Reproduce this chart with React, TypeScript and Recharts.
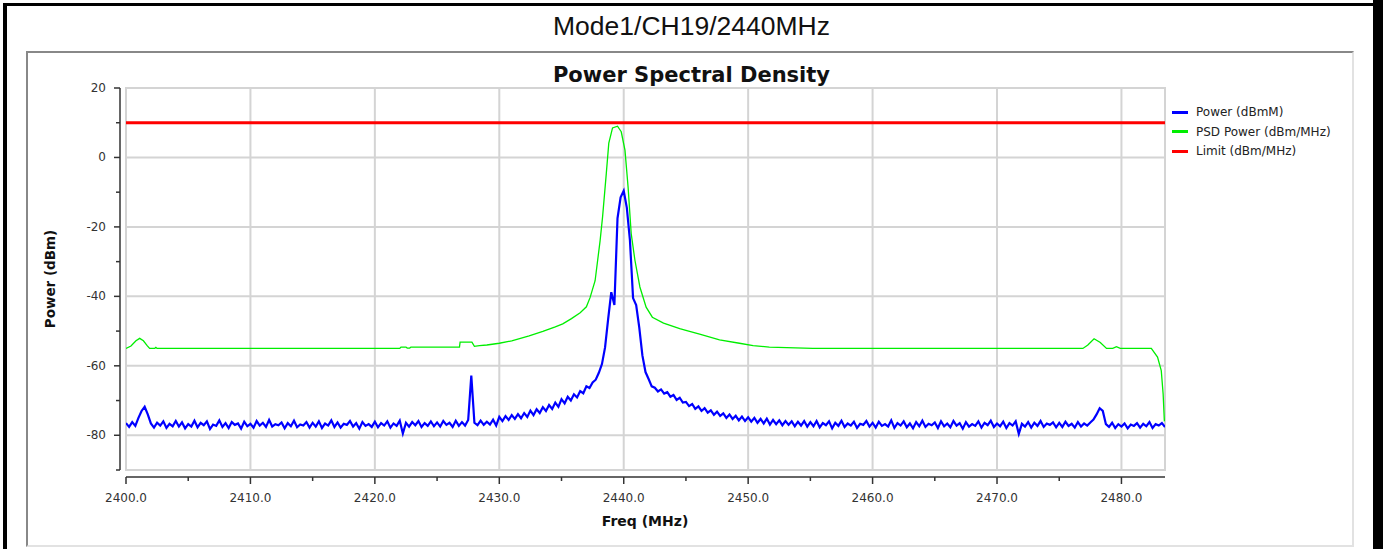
import React from 'react';
import {
  LineChart, Line, XAxis, YAxis, ReferenceLine, ReferenceArea,
} from 'recharts';

// spectrum trace, 0.25 MHz bins starting at 2400 MHz
const BLUE_START = 2400;
const BLUE_STEP = 0.25;
const BLUE_DB = [
  // 2400 - 2404.75
  -76.5, -77.6, -76.2, -77.3, -75.0, -73.0, -71.8, -74.0, -76.6, -77.8, -76.4, -77.2, -76.0, -77.9, -76.7, -77.4, -75.9, -77.5, -76.3, -78.0,
  // 2405
  -76.8, -77.5, -75.8, -77.7, -76.4, -77.1, -76.0, -78.2, -76.9, -77.3, -75.7, -77.6, -76.5, -77.9, -76.2, -77.0, -76.6, -78.1, -76.1, -77.4,
  // 2410
  -76.7, -77.8, -75.9, -77.2, -76.4, -77.6, -75.6, -77.5, -76.8, -77.1, -76.3, -78.0, -76.5, -77.4, -75.8, -77.7, -76.9, -77.2, -76.2, -77.8,
  // 2415
  -76.4, -77.5, -76.0, -77.9, -76.6, -77.2, -75.7, -77.6, -76.3, -77.8, -76.7, -77.0, -75.9, -77.5, -76.5, -78.1, -76.2, -77.3, -76.8, -77.6,
  // 2420
  -76.1, -77.7, -76.5, -77.2, -76.0, -77.8, -76.6, -77.3, -75.8, -79.5, -76.4, -77.5, -76.2, -77.1, -75.9, -77.6, -76.5, -77.3, -76.0, -77.4,
  // 2425
  -76.3, -77.5, -75.9, -77.0, -76.4, -77.6, -75.8, -77.3, -76.2, -77.2, -75.6, -62.8, -76.4, -77.1, -75.8, -77.0, -76.1, -76.9, -75.5, -77.2,
  // 2430
  -74.7, -75.9, -74.5, -75.6, -74.2, -75.3, -73.9, -75.1, -73.6, -74.7, -72.9, -74.2, -72.5, -73.6, -71.9, -73.0, -71.3, -72.4, -70.6, -71.8,
  // 2435
  -69.6, -70.8, -68.9, -70.0, -68.2, -69.1, -67.3, -67.9, -65.9, -66.4, -64.8, -64.0, -62.0, -59.5, -54.7, -46.5, -38.8, -42.5, -17.5, -11.5,
  // 2440
  -9.6, -14.5, -23.9, -40.5, -42.5, -49.0, -57.0, -61.8, -63.8, -65.9, -66.3, -67.4, -66.8, -68.0, -67.6, -68.9, -68.4, -69.8, -69.2, -70.6,
  // 2445
  -70.4, -71.6, -71.0, -72.4, -71.7, -73.0, -72.2, -73.5, -72.8, -74.1, -73.2, -74.4, -73.7, -75.0, -74.0, -75.3, -74.4, -75.7, -74.6, -75.9,
  // 2450
  -74.8, -76.1, -75.0, -76.4, -75.3, -76.6, -75.2, -76.9, -75.6, -76.8, -75.7, -77.1, -75.9, -77.0, -76.0, -77.4, -76.1, -77.2, -75.9, -77.5,
  // 2455
  -76.2, -77.4, -75.9, -77.7, -76.5, -77.1, -76.0, -78.0, -76.4, -77.3, -75.8, -77.6, -76.6, -77.2, -76.1, -77.9, -76.7, -77.0, -75.9, -77.5,
  // 2460
  -76.4, -77.8, -76.1, -77.3, -76.8, -77.5, -75.7, -77.9, -76.5, -77.2, -76.0, -77.7, -76.6, -78.0, -76.2, -77.4, -75.8, -77.6, -76.7, -77.1,
  // 2465
  -76.3, -77.9, -76.0, -77.4, -76.6, -77.7, -75.9, -77.2, -76.5, -78.1, -76.2, -77.5, -76.8, -77.3, -76.0, -77.8, -76.4, -77.1, -75.8, -77.6,
  // 2470
  -76.6, -77.4, -76.1, -77.9, -76.5, -77.2, -76.0, -79.6, -76.7, -77.5, -76.2, -77.8, -76.4, -77.3, -75.9, -77.6, -76.6, -77.0, -76.3, -77.7,
  // 2475
  -76.4, -77.6, -76.1, -77.3, -76.7, -77.8, -76.2, -77.5, -76.6, -77.2, -76.3, -75.5, -74.0, -72.2, -73.0, -76.8, -77.6, -76.4, -77.9, -76.8,
  // 2480 - 2483.5
  -77.5, -76.6, -78.0, -76.9, -77.3, -76.5, -77.8, -76.7, -77.4, -76.2, -77.9, -76.8, -77.2, -76.5, -77.6,
];

const GREEN_F = [
  2400, 2400.4, 2400.8, 2401.1, 2401.4, 2401.7, 2401.9, 2402.3, 2402.4, 2402.5,
  2410, 2422.0, 2422.1, 2422.5, 2422.6, 2422.8, 2422.9, 2426.8, 2426.85, 2427.8,
  2428.0, 2428.4, 2429.0, 2430.0, 2431.0, 2432.4, 2433.5, 2434.5, 2435.1, 2435.8,
  2436.5, 2437.0, 2437.3, 2437.7, 2438.1, 2438.3, 2438.6, 2438.8, 2439.1, 2439.5,
  2439.8, 2440.1, 2440.35, 2440.6, 2440.9, 2441.3, 2441.8, 2442.3, 2443.2, 2444.5,
  2445.0, 2446.1, 2447.7, 2449.3, 2450.4, 2451.7, 2455.2, 2462, 2470, 2476.9,
  2477.3, 2477.8, 2478.3, 2478.8, 2479.3, 2479.6, 2479.9, 2482.4, 2482.9, 2483.2,
  2483.35, 2483.45,
];
const GREEN_DB = [
  -55.0, -54.3, -52.8, -52.1, -52.8, -54.2, -55.0, -55.0, -54.7, -55.0,
  -55.0, -55.0, -54.6, -54.6, -54.9, -54.9, -54.6, -54.6, -53.2, -53.2,
  -54.4, -54.2, -54.0, -53.5, -52.8, -51.4, -50.1, -48.8, -47.9, -46.4,
  -44.7, -43.0, -40.3, -35.5, -24.0, -17.1, -4.6, 4.1, 8.5, 9.0,
  7.4, 2.1, -8.5, -21.9, -29.6, -37.3, -43.1, -46.0, -47.7, -49.3,
  -49.8, -50.9, -52.5, -53.5, -54.2, -54.6, -55.0, -55.0, -55.0, -55.0,
  -54.0, -52.2, -53.3, -55.0, -55.0, -54.5, -55.0, -55.0, -57.5, -61.4,
  -68.1, -76.0,
];

const LIMIT_F = [2400, 2483.5];
const LIMIT_DB = [10, 10];

const X_DOMAIN = [2400, 2483.5];
const Y_DOMAIN = [-90, 20];
const X_TICKS = [2400, 2405, 2410, 2415, 2420, 2425, 2430, 2435, 2440, 2445, 2450, 2455, 2460, 2465, 2470, 2475, 2480];
const X_GRID = [2410, 2420, 2430, 2440, 2450, 2460, 2470, 2480];
const Y_TICKS = [20, 10, 0, -10, -20, -30, -40, -50, -60, -70, -80, -90];
const Y_GRID = [0, -20, -40, -60, -80];
const Y_LABELED = [20, 0, -20, -40, -60, -80];

const SERIES = [
  { name: 'Power (dBmM)', color: '#0000ff' },
  { name: 'PSD Power (dBm/MHz)', color: '#00ee00' },
  { name: 'Limit (dBm/MHz)', color: '#ff0000' },
];

const blueRows = BLUE_DB.map((v, i) => ({ f: BLUE_START + i * BLUE_STEP, v }));
const greenRows = GREEN_F.map((f, i) => ({ f, v: GREEN_DB[i] }));
const limitRows = LIMIT_F.map((f, i) => ({ f, v: LIMIT_DB[i] }));

const TICK_FONT = { fontFamily: 'DejaVu Sans, sans-serif', fontSize: 12, fill: '#333' };
const AXIS_COLOR = '#333';
const GRID_COLOR = '#d4d4d4';

function XTick(props: any) {
  const { x, y, payload } = props;
  const major = payload.value % 10 === 0;
  return (
    <g>
      <line x1={x} x2={x} y1={y} y2={y + (major ? 7 : 4)} stroke={AXIS_COLOR} strokeWidth={1.5} />
      {major && (
        <text x={x} y={y + 21} textAnchor="middle" dominantBaseline="central" style={TICK_FONT}>
          {payload.value.toFixed(1)}
        </text>
      )}
    </g>
  );
}

function YTick(props: any) {
  const { x, y, payload } = props;
  const labeled = Y_LABELED.includes(payload.value);
  return (
    <g>
      <line x1={x - (labeled ? 6 : 4)} x2={x} y1={y} y2={y} stroke={AXIS_COLOR} strokeWidth={1.5} />
      {labeled && (
        <text x={x - 14} y={y} textAnchor="end" dominantBaseline="central" style={TICK_FONT}>
          {payload.value}
        </text>
      )}
    </g>
  );
}

export default function App() {
  return (
    <div style={{ position: 'absolute', left: 0, top: 0, width: 1383, height: 549, background: '#fff', overflow: 'hidden' }}>
      {/* outer frame */}
      <div style={{ position: 'absolute', left: 3, top: 3, width: 1383, height: 3, background: '#000' }} />
      <div style={{ position: 'absolute', left: 3, top: 3, width: 4, height: 549, background: '#000' }} />
      <div style={{ position: 'absolute', left: 1373, top: 0, width: 10, height: 549, background: '#000' }} />
      {/* inner panel */}
      <div style={{
        position: 'absolute', left: 26, top: 51, width: 1324, height: 492,
        borderTop: '2px solid #888', borderLeft: '2px solid #888',
        borderRight: '2px solid #e2e2e2', borderBottom: '2px solid #e2e2e2',
      }} />
      <div style={{
        position: 'absolute', left: 0, top: 11, width: 1383, textAlign: 'center',
        fontFamily: 'Liberation Sans, Arial, sans-serif', fontSize: 26.5, color: '#111',
      }}>
        Mode1/CH19/2440MHz
      </div>
      <div style={{
        position: 'absolute', left: 0, top: 63, width: 1383, textAlign: 'center',
        fontFamily: 'DejaVu Sans, sans-serif', fontWeight: 'bold', fontSize: 21, color: '#111',
      }}>
        Power Spectral Density
      </div>
      <div style={{ position: 'absolute', left: 0, top: 0 }}>
        <LineChart width={1383} height={549} margin={{ top: 88, right: 218, bottom: 32, left: 60 }}>
          <XAxis xAxisId="inner" dataKey="f" type="number" domain={X_DOMAIN} allowDataOverflow
                 height={7} axisLine={false} tickLine={false} tick={false} />
          <XAxis xAxisId="outer" dataKey="f" type="number" domain={X_DOMAIN} allowDataOverflow
                 ticks={X_TICKS} interval={0} height={40} tickSize={0} tickMargin={0}
                 axisLine={{ stroke: AXIS_COLOR, strokeWidth: 1.5 }} tickLine={false} tick={<XTick />} />
          <YAxis yAxisId="inner" type="number" domain={Y_DOMAIN} allowDataOverflow
                 width={6} axisLine={false} tickLine={false} tick={false} />
          <YAxis yAxisId="outer" type="number" domain={Y_DOMAIN} allowDataOverflow
                 ticks={Y_TICKS} interval={0} width={60} tickSize={0} tickMargin={0}
                 axisLine={{ stroke: AXIS_COLOR, strokeWidth: 1.5 }} tickLine={false} tick={<YTick />} />
          {X_GRID.map((v) => (
            <ReferenceLine key={`gx${v}`} xAxisId="inner" yAxisId="inner" x={v} stroke={GRID_COLOR} strokeWidth={2} />
          ))}
          {Y_GRID.map((v) => (
            <ReferenceLine key={`gy${v}`} xAxisId="inner" yAxisId="inner" y={v} stroke={GRID_COLOR} strokeWidth={2} />
          ))}
          <ReferenceArea xAxisId="inner" yAxisId="inner" x1={2400} x2={2483.5} y1={-90} y2={20}
                         fill="none" stroke={GRID_COLOR} strokeWidth={2} />
          <Line xAxisId="inner" yAxisId="inner" data={greenRows} dataKey="v" type="linear"
                stroke="#00ee00" strokeWidth={1.3} dot={false} isAnimationActive={false} />
          <Line xAxisId="inner" yAxisId="inner" data={blueRows} dataKey="v" type="linear"
                stroke="#0000ff" strokeWidth={2.2} dot={false} isAnimationActive={false} />
          <Line xAxisId="inner" yAxisId="inner" data={limitRows} dataKey="v" type="linear"
                stroke="#ff0000" strokeWidth={3} dot={false} isAnimationActive={false} />
        </LineChart>
      </div>
      {/* axis titles */}
      <div style={{
        position: 'absolute', left: 50, top: 279, transform: 'translate(-50%, -50%) rotate(-90deg)',
        fontFamily: 'DejaVu Sans, sans-serif', fontWeight: 'bold', fontSize: 13.5, color: '#111', whiteSpace: 'nowrap',
      }}>
        Power (dBm)
      </div>
      <div style={{
        position: 'absolute', left: 645, top: 521, transform: 'translate(-50%, -50%)',
        fontFamily: 'DejaVu Sans, sans-serif', fontWeight: 'bold', fontSize: 14, color: '#111', whiteSpace: 'nowrap',
      }}>
        Freq (MHz)
      </div>
      {/* legend */}
      {SERIES.map((s, i) => (
        <div key={s.name} style={{ position: 'absolute', left: 1172, top: 112 + i * 19.5, height: 0 }}>
          <div style={{ position: 'absolute', left: 0, top: -1.5, width: 16, height: 3, background: s.color }} />
          <div style={{
            position: 'absolute', left: 24, top: -8, whiteSpace: 'nowrap', lineHeight: '16px',
            fontFamily: 'DejaVu Sans, sans-serif', fontSize: 12, color: '#222',
          }}>
            {s.name}
          </div>
        </div>
      ))}
    </div>
  );
}
